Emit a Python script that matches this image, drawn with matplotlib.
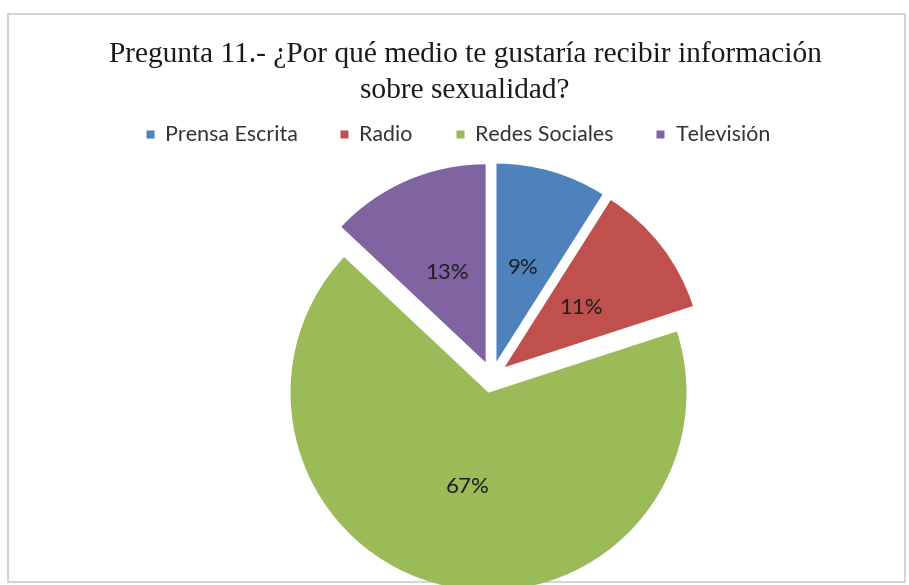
import matplotlib
matplotlib.use("Agg")
import matplotlib.pyplot as plt
from matplotlib.lines import Line2D

# --- Data ---
categories = ["Prensa Escrita", "Radio", "Redes Sociales", "Televisión"]
values = [9, 11, 67, 13]
colors = ["#4F81BD", "#C0504D", "#9BBB59", "#8064A2"]
title_lines = ["Pregunta 11.- ¿Por qué medio te gustaría recibir información",
               "sobre sexualidad?"]

W, H = 909, 585
fig = plt.figure(figsize=(W / 100, H / 100), dpi=100)
ax = fig.add_axes([0, 0, 1, 1])

# --- Pie (pixel coordinates, y up); explode is in data units here ---
wedges, texts, autotexts = ax.pie(
    values, colors=colors, startangle=90, counterclock=False,
    explode=[16] * len(values), radius=198, center=(492, H - 377),
    autopct="%1.0f%%", pctdistance=0.49,
    wedgeprops=dict(edgecolor="none"),
    textprops=dict(fontsize=16, color="#1f1f1f", family="Lato"))

ax.set_xlim(0, W)
ax.set_ylim(0, H)
ax.set_aspect("equal")
ax.axis("off")

# --- Chart border (behind the pie) ---
ax.plot([8, 8, 905, 905, 8], [H - 582, H - 14, H - 14, H - 582, H - 582],
        color="#d4d4d4", lw=1.5, clip_on=False, zorder=0.5)

# --- Title (two lines, baselines) ---
for line, yb in zip(title_lines, [62, 98]):
    fig.text(465 / W, 1 - yb / H, line, ha="center", va="baseline",
             fontsize=21.2, family="Liberation Serif", color="#1a1a1a")

# --- Legend ---
handles = [Line2D([], [], marker="s", ls="none", markersize=5.8,
                  markerfacecolor=c, markeredgecolor="none") for c in colors]
fig.legend(handles, categories, loc="center", bbox_to_anchor=(458 / W, 1 - 135 / H),
           ncol=4, frameon=False, handlelength=0.4, handletextpad=0.5,
           columnspacing=2.0, prop=dict(family="Lato", size=15.4),
           labelcolor="#333333")

fig.savefig("out.png", dpi=100)
